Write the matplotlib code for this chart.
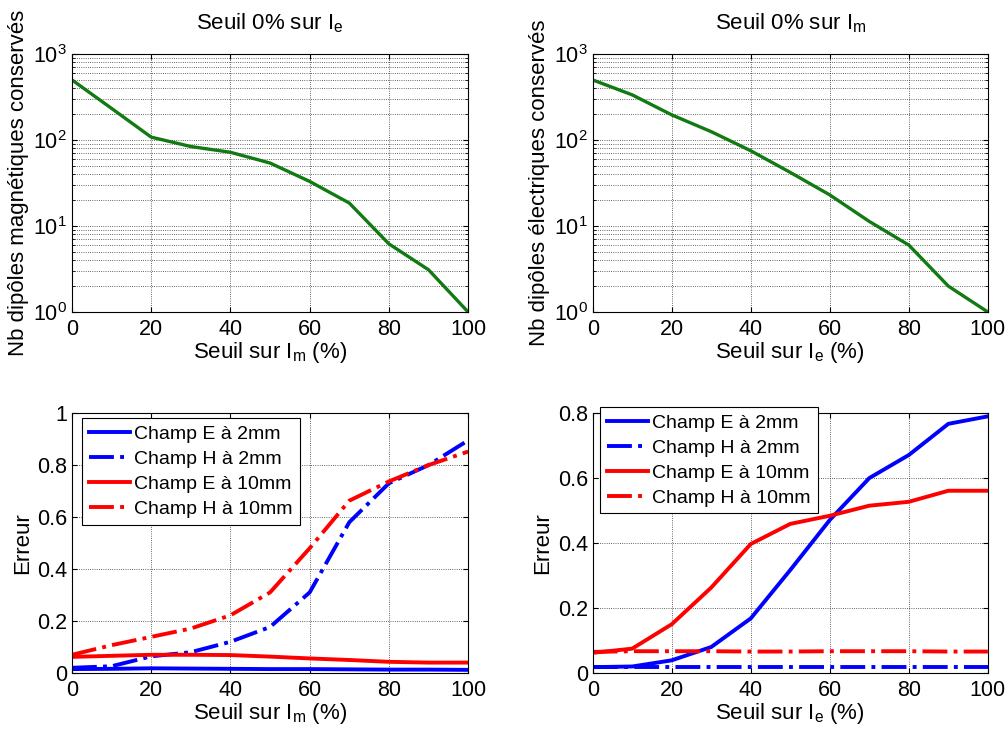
import numpy as np
import matplotlib
matplotlib.use('Agg')
import matplotlib.pyplot as plt
from matplotlib.ticker import LogLocator, NullFormatter

plt.rcParams['font.family'] = ['Liberation Sans', 'DejaVu Sans']
plt.rcParams['mathtext.fontset'] = 'custom'
plt.rcParams['mathtext.rm'] = 'Liberation Sans'
plt.rcParams['mathtext.it'] = 'Liberation Sans'
plt.rcParams['font.size'] = 13

# ---- data ----
seuil = [0, 10, 20, 30, 40, 50, 60, 70, 80, 90, 100]

nb_magn = [500, 233, 108, 84, 72, 54, 33, 18.5, 6.2, 3.1, 1]
nb_elec = [500, 335, 196, 125, 75, 42, 23, 11.3, 6, 2, 1]

# erreur vs seuil sur Im
errm_E2 = [0.015, 0.016, 0.018, 0.017, 0.016, 0.015, 0.015, 0.014, 0.013, 0.013, 0.012]
errm_H2 = [0.02, 0.026, 0.064, 0.08, 0.12, 0.177, 0.31, 0.58, 0.73, 0.80, 0.895]
errm_E10 = [0.062, 0.066, 0.07, 0.07, 0.069, 0.063, 0.056, 0.05, 0.043, 0.04, 0.04]
errm_H10 = [0.07, 0.107, 0.139, 0.171, 0.222, 0.31, 0.48, 0.663, 0.737, 0.80, 0.852]

# erreur vs seuil sur Ie
erre_E2 = [0.018, 0.02, 0.039, 0.08, 0.168, 0.317, 0.471, 0.6, 0.671, 0.767, 0.79]
erre_H2 = [0.018, 0.018, 0.018, 0.018, 0.018, 0.018, 0.018, 0.018, 0.018, 0.018, 0.018]
erre_E10 = [0.062, 0.075, 0.15, 0.263, 0.397, 0.459, 0.484, 0.515, 0.527, 0.561, 0.561]
erre_H10 = [0.065, 0.067, 0.067, 0.067, 0.066, 0.066, 0.067, 0.067, 0.067, 0.066, 0.066]

legende = ['Champ E à 2mm', 'Champ H à 2mm', 'Champ E à 10mm', 'Champ H à 10mm']

green = '#127a12'
lw = 2.4
grid_kw = dict(color='k', linestyle=':', linewidth=0.6, alpha=0.8)

fig = plt.figure(figsize=(10.08, 7.30), dpi=100)
ax1 = fig.add_axes([0.0714, 0.5726, 0.393, 0.3534])
ax2 = fig.add_axes([0.588, 0.5726, 0.392, 0.3534])
ax3 = fig.add_axes([0.0714, 0.0781, 0.393, 0.356])
ax4 = fig.add_axes([0.588, 0.0781, 0.392, 0.356])

def style(ax):
    ax.set_xlim(0, 100)
    ax.set_xticks([0, 20, 40, 60, 80, 100])
    ax.tick_params(direction='in', which='both', top=True, right=True, labelsize=15.5)
    ax.tick_params(axis='x', pad=5)

# top plots (log)
for ax, y, title, xlab, ylab in [
        (ax1, nb_magn, r'Seuil 0% sur $\mathregular{I_e}$', r'Seuil sur $\mathregular{I_m}$ (%)',
         'Nb dipôles magnétiques conservés'),
        (ax2, nb_elec, r'Seuil 0% sur $\mathregular{I_m}$', r'Seuil sur $\mathregular{I_e}$ (%)',
         'Nb dipôles électriques conservés')]:
    ax.semilogy(seuil, y, color=green, linewidth=lw)
    ax.set_ylim(1, 1000)
    style(ax)
    ax.yaxis.set_major_locator(LogLocator(base=10, numticks=10))
    ax.yaxis.set_minor_locator(LogLocator(base=10, subs=np.arange(2, 10), numticks=10))
    ax.yaxis.set_minor_formatter(NullFormatter())
    ax.grid(True, which='major', **grid_kw)
    ax.grid(True, which='minor', axis='y', **grid_kw)
    ax.set_title(title, fontsize=16, pad=18)
    ax.set_xlabel(xlab, fontsize=16, labelpad=0)
    ax.set_ylabel(ylab, fontsize=16, labelpad=3)

# bottom plots
for ax, series, xlab, ymax, anchor in [
        (ax3, [errm_E2, errm_H2, errm_E10, errm_H10], r'Seuil sur $\mathregular{I_m}$ (%)', 1.0,
         (0.025, 0.98)),
        (ax4, [erre_E2, erre_H2, erre_E10, erre_H10], r'Seuil sur $\mathregular{I_e}$ (%)', 0.8,
         (0.018, 1.023))]:
    cols = ['#0000ff', '#0000ff', '#ff0000', '#ff0000']
    styles = ['-', '-.', '-', '-.']
    for s, c, ls, lab in zip(series, cols, styles, legende):
        ax.plot(seuil, s, color=c, linestyle=ls, linewidth=lw + 0.4, label=lab)
    ax.set_ylim(0, ymax)
    style(ax)
    ticks = np.arange(0, ymax + 0.01, 0.2)
    ax.set_yticks(ticks)
    ax.set_yticklabels(['%g' % t for t in ticks])
    ax.grid(True, **grid_kw)
    ax.set_xlabel(xlab, fontsize=16, labelpad=0)
    ax.set_ylabel('Erreur', fontsize=16, labelpad=3)
    leg = ax.legend(loc='upper left', bbox_to_anchor=anchor, fontsize=14, fancybox=False,
                    framealpha=1, edgecolor='k', handlelength=2.15, handletextpad=0.2,
                    borderpad=0.35, labelspacing=0.38, borderaxespad=0)
    leg.get_frame().set_linewidth(0.8)

plt.savefig('out.png', dpi=100)
